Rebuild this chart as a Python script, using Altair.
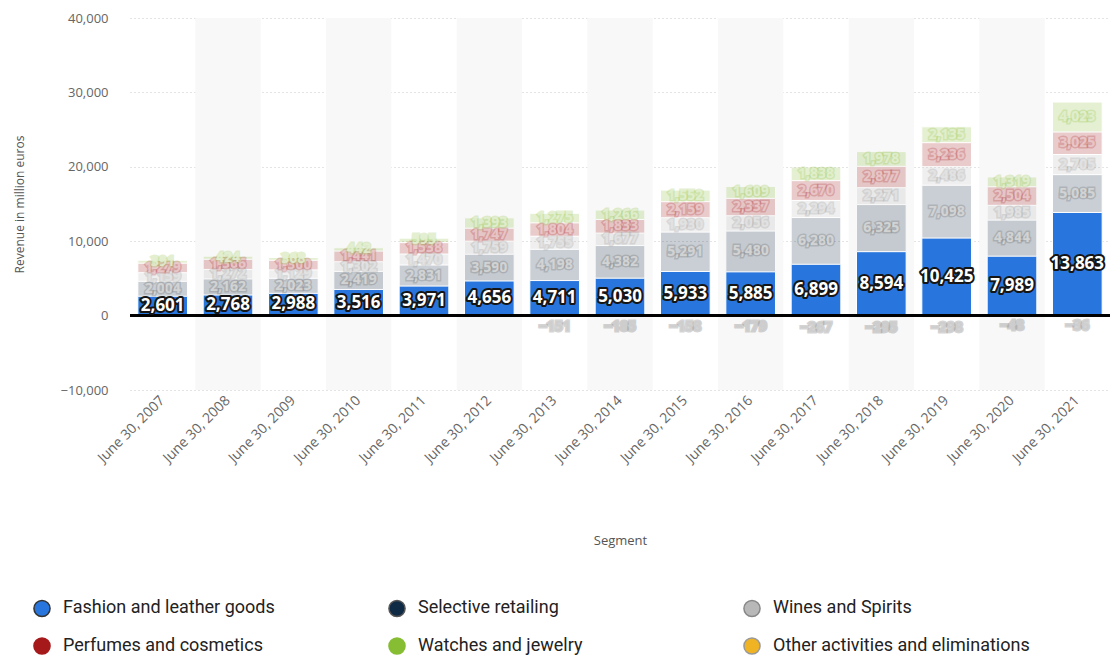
import altair as alt
import pandas as pd

years = ["June 30, 2007", "June 30, 2008", "June 30, 2009", "June 30, 2010", "June 30, 2011",
         "June 30, 2012", "June 30, 2013", "June 30, 2014", "June 30, 2015", "June 30, 2016",
         "June 30, 2017", "June 30, 2018", "June 30, 2019", "June 30, 2020", "June 30, 2021"]
segments = ["Fashion and leather goods", "Selective retailing", "Wines and Spirits",
            "Perfumes and cosmetics", "Watches and jewelry", "Other activities and eliminations"]
colors = ["#2876dd", "#0f2a44", "#b8b8b8", "#a5191b", "#86bd33", "#f0b323"]

fashion = [2601, 2768, 2988, 3516, 3971, 4656, 4711, 5030, 5933, 5885, 6899, 8594, 10425, 7989, 13863]
selective = [2004, 2162, 2023, 2419, 2831, 3590, 4198, 4382, 5291, 5480, 6280, 6325, 7098, 4844, 5085]
wines = [1159, 1272, 1129, 1302, 1470, 1759, 1755, 1677, 1930, 2056, 2294, 2271, 2486, 1985, 2705]
perfumes = [1279, 1366, 1300, 1441, 1538, 1747, 1804, 1833, 2159, 2337, 2670, 2877, 3236, 2504, 3025]
watches = [391, 424, 368, 442, 595, 1393, 1275, 1266, 1552, 1609, 1838, 1978, 2135, 1319, 4023]
other = [None, None, None, None, None, None, -151, -185, -158, -179, -267, -295, -298, -48, -36]

series = [fashion, selective, wines, perfumes, watches, other]
rows = []
for si, (seg, vals) in enumerate(zip(segments, series)):
    for yi, (yr, v) in enumerate(zip(years, vals)):
        if v is None:
            continue
        rows.append({"year": yr, "segment": seg, "value": v, "order": si})
df = pd.DataFrame(rows)

bands = pd.DataFrame({"year": years[1::2]})

FONT = "Open Sans"
x_scale = alt.Scale(paddingInner=0.24, paddingOuter=0.12)
x_enc = alt.X("year:N", sort=years, title="Segment", scale=x_scale,
              axis=alt.Axis(labelAngle=315, labelFontSize=14, labelColor="#666666",
                            labelFont=FONT, titleFont=FONT, titleFontSize=13,
                            titleColor="#555555", titleFontWeight="normal",
                            domain=False, ticks=False, labelPadding=8, titlePadding=70))
y_scale = alt.Scale(domain=[-10000, 40000], nice=False)

bg = alt.Chart(bands).mark_bar(color="#f8f8f8", width=alt.RelativeBandSize(1.316)).encode(
    x=alt.X("year:N", sort=years, scale=x_scale),
    y=alt.datum(-10000, scale=y_scale),
    y2=alt.datum(40000),
)

bars = alt.Chart(df).mark_bar(stroke="white", strokeWidth=1).encode(
    x=x_enc,
    y=alt.Y("value:Q", stack="zero", scale=y_scale, title="Revenue in million euros",
            axis=alt.Axis(values=[-10000, 0, 10000, 20000, 30000, 40000], format=",.0f",
                          labelFontSize=13, labelColor="#666666", labelFont=FONT,
                          titleFont=FONT, titleFontSize=12, titleColor="#555555",
                          titleFontWeight="normal", domain=False, ticks=False,
                          labelPadding=22, titlePadding=34, gridColor="#c8c8c8",
                          gridDash=[1, 3])),
    color=alt.Color("segment:N", scale=alt.Scale(domain=segments, range=colors),
                    legend=alt.Legend(title=None, orient="none", legendX=-97, legendY=581,
                                      direction="horizontal",
                                      columns=3, symbolType="circle", symbolSize=260,
                                      symbolOpacity=1, labelFontSize=18,
                                      labelFont="Roboto", labelColor="#222222",
                                      columnPadding=65, rowPadding=14, labelOffset=12,
                                      gridAlign="all", labelLimit=400)),
    order=alt.Order("order:Q"),
    opacity=alt.condition(alt.datum.segment == segments[0], alt.value(1.0), alt.value(0.22)),
)

zero = alt.Chart(df).mark_rule(color="#000000", strokeWidth=1.5).encode(
    y=alt.datum(0)
)

stacked = alt.Chart(df).transform_stack(
    stack="value", groupby=["year"], as_=["y0", "y1"],
    sort=[alt.SortField("order", order="ascending")]
).transform_calculate(mid="(datum.y0 + datum.y1) / 2")

fmt = ",.0f"
pos_halo = stacked.transform_filter("datum.order > 0 && datum.order < 5").mark_text(
    font=FONT, fontSize=14, fontWeight="bold", strokeWidth=3, strokeOpacity=0.25,
    fill="white", opacity=0.9
).encode(
    x=alt.X("year:N", sort=years),
    y=alt.Y("mid:Q"),
    text=alt.Text("value:Q", format=fmt),
    stroke=alt.Stroke("segment:N", scale=alt.Scale(domain=segments,
                      range=["#333333", "#555555", "#888888", "#a5191b", "#86bd33", "#999999"]),
                      legend=None),
)

neg_text = stacked.transform_filter("datum.order == 5").mark_text(
    font=FONT, fontSize=14, fontWeight="bold", stroke="#777777", strokeWidth=3,
    strokeOpacity=0.35, fill="#f4f4f4", opacity=0.9, baseline="top", dy=3
).encode(
    x=alt.X("year:N", sort=years),
    y=alt.Y("y1:Q"),
    text=alt.Text("value:Q", format=fmt),
)

fash_halo = stacked.transform_filter(alt.datum.order == 0).mark_text(
    font=FONT, fontSize=17, fontWeight="bold", stroke="#151515", strokeWidth=4,
    strokeJoin="round", fill="#151515"
).encode(
    x=alt.X("year:N", sort=years),
    y=alt.Y("mid:Q"),
    text=alt.Text("value:Q", format=fmt),
)
fash_text = stacked.transform_filter(alt.datum.order == 0).mark_text(
    font=FONT, fontSize=17, fontWeight="bold", fill="white"
).encode(
    x=alt.X("year:N", sort=years),
    y=alt.Y("mid:Q"),
    text=alt.Text("value:Q", format=fmt),
)

chart = alt.layer(bg, bars, zero, pos_halo, neg_text, fash_halo, fash_text).properties(
    width=980, height=372,
    autosize=alt.AutoSizeParams(type="none"),
    padding={"left": 130, "top": 18, "right": 9, "bottom": 269},
    background="white",
).configure_view(stroke=None).configure_axis(grid=True).configure_axisX(grid=False)

chart.save("out.html", embed_options={"renderer": "svg", "actions": False})
